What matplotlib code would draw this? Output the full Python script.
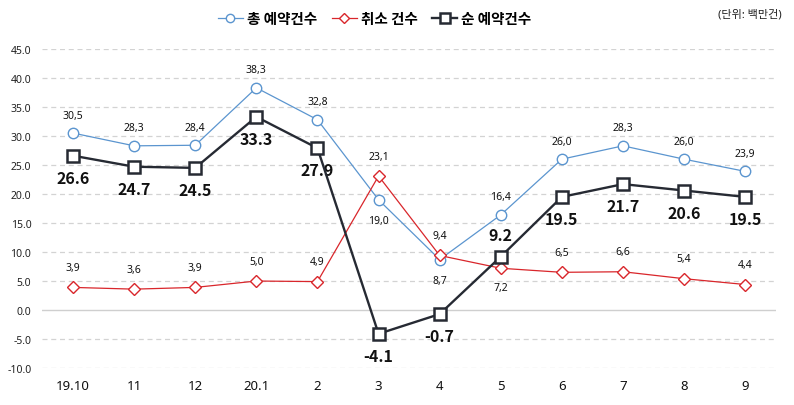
import numpy as np
import matplotlib.pyplot as plt
from matplotlib.lines import Line2D

plt.rcParams["font.family"] = ["Noto Sans", "Noto Sans CJK KR", "DejaVu Sans"]

# Data
months = ["19.10", "11", "12", "20.1", "2", "3", "4", "5", "6", "7", "8", "9"]
total = [30.5, 28.3, 28.4, 38.3, 32.8, 19.0, 8.7, 16.4, 26.0, 28.3, 26.0, 23.9]
cancel = [3.9, 3.6, 3.9, 5.0, 4.9, 23.1, 9.4, 7.2, 6.5, 6.6, 5.4, 4.4]
net = [26.6, 24.7, 24.5, 33.3, 27.9, -4.1, -0.7, 9.2, 19.5, 21.7, 20.6, 19.5]

# which labels go below / above the point
total_below = [5, 6]
cancel_below = [7]
net_above = [7]

blue = "#5B95CF"
red = "#D9262B"
dark = "#262A33"

fig = plt.figure(figsize=(7.94, 4.06), dpi=100)
ax = fig.add_axes([0.0535, 0.091, 0.9235, 0.786])

x = np.arange(len(months))

ax.plot(x, total, color=blue, lw=0.9, marker="o", ms=7.5, mfc="white",
        mec=blue, mew=1, zorder=3)
ax.plot(x, cancel, color=red, lw=0.9, marker="D", ms=6.5, mfc="white",
        mec=red, mew=1, zorder=3)
ax.plot(x, net, color=dark, lw=1.7, marker="s", ms=8, mfc="white",
        mec=dark, mew=1.8, zorder=4)

# value labels
for i, v in enumerate(total):
    dy = -21 if i in total_below else 18
    ax.annotate(f"{v:.1f}".replace(".", ","), (i, v), xytext=(0, dy),
                textcoords="offset pixels", ha="center", va="center",
                fontsize=7.5, color="#111111")
for i, v in enumerate(cancel):
    dy = -19 if i in cancel_below else 20
    ax.annotate(f"{v:.1f}".replace(".", ","), (i, v), xytext=(0, dy),
                textcoords="offset pixels", ha="center", va="center",
                fontsize=7.5, color="#111111")
for i, v in enumerate(net):
    dy = 22 if i in net_above else -22
    ax.annotate(f"{v:.1f}", (i, v), xytext=(0, dy),
                textcoords="offset pixels", ha="center", va="center",
                fontsize=11.5, fontweight="bold", color="#111111",
                family=["Noto Sans CJK KR", "DejaVu Sans"])

ax.set_xlim(-0.5, len(months) - 0.5)
ax.set_ylim(-10, 45)
ax.set_yticks(np.arange(-10, 46, 5))
ax.set_yticklabels([f"{t:.1f}" for t in np.arange(-10, 46, 5)])
ax.set_xticks(x)
ax.set_xticklabels(months)

ax.tick_params(axis="y", length=0, labelsize=7.5, pad=8, labelcolor="#222222")
ax.tick_params(axis="x", length=0, labelsize=9.5, pad=8, labelcolor="#111111")

for s in ax.spines.values():
    s.set_visible(False)

for t in np.arange(-10, 46, 5):
    if t == 0:
        ax.axhline(0, color="#CFCFCF", lw=1, zorder=1)
    else:
        ax.axhline(t, color="#D3D3D3", lw=0.9, ls=(0, (4, 3)), zorder=1)

handles = [
    Line2D([], [], color=blue, lw=0.9, marker="o", ms=6, mfc="white", mec=blue),
    Line2D([], [], color=red, lw=0.9, marker="D", ms=5, mfc="white", mec=red),
    Line2D([], [], color=dark, lw=1.7, marker="s", ms=6.5, mfc="white", mec=dark, mew=1.8),
]
fig.legend(handles, ["총 예약건수", "취소 건수", "순 예약건수"],
           loc="center", bbox_to_anchor=(0.472, 0.952), ncol=3, frameon=False,
           handlelength=1.7, handletextpad=0.3, columnspacing=1.0,
           prop={"size": 10.5, "weight": "bold",
                 "family": ["Noto Sans CJK KR", "DejaVu Sans"]})

fig.text(0.985, 0.962, "(단위: 백만건)", ha="right", va="center",
         fontsize=8, color="#222222")

fig.savefig("out.png", dpi=100)
